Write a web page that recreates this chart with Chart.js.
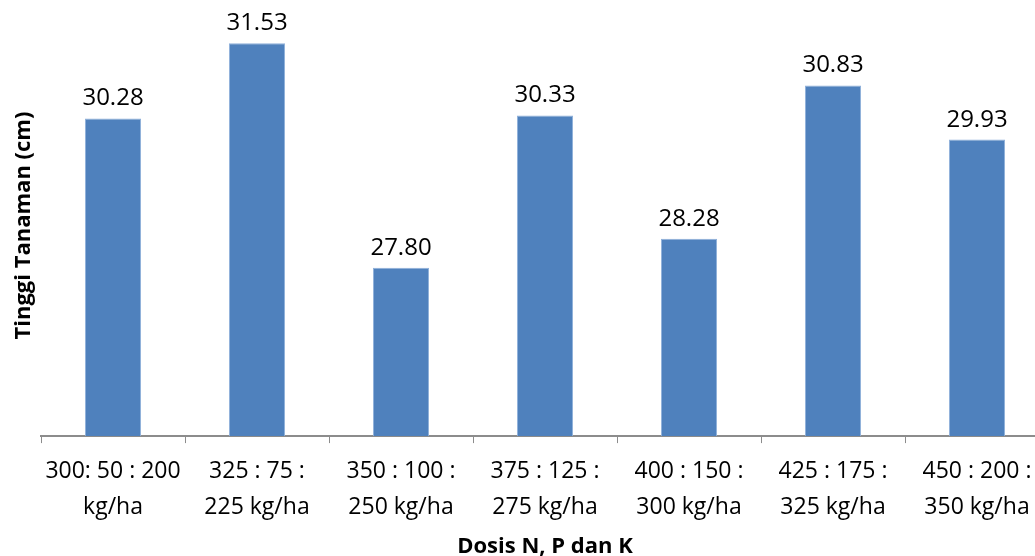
<!DOCTYPE html>
<html>
<head>
<meta charset="utf-8">
<script src="https://cdn.jsdelivr.net/npm/chart.js@4"></script>
<style>
  html, body { margin: 0; padding: 0; background: #ffffff; overflow: hidden; }
  #wrap { width: 1035px; height: 556px; overflow: hidden; }
</style>
</head>
<body>
<div id="wrap"><canvas id="c" width="1060" height="556"></canvas></div>
<script>
// Plant height by N, P, K dose
const categories = [
  ["300: 50 : 200", "kg/ha"],
  ["325 : 75 :", "225 kg/ha"],
  ["350 : 100 :", "250 kg/ha"],
  ["375 : 125 :", "275 kg/ha"],
  ["400 : 150 :", "300 kg/ha"],
  ["425 : 175 :", "325 kg/ha"],
  ["450 : 200 :", "350 kg/ha"]
];
const heights = [30.28, 31.53, 27.80, 30.33, 28.28, 30.83, 29.93];
const yMin = 25;
const yMax = 32;

const FONT = "'Open Sans', 'Liberation Sans', sans-serif";

// value labels above each bar
const barValueLabels = {
  id: 'barValueLabels',
  afterDatasetsDraw(chart) {
    const ctx = chart.ctx;
    const meta = chart.getDatasetMeta(0);
    ctx.save();
    ctx.font = "24px " + FONT;
    ctx.fillStyle = '#000000';
    ctx.textAlign = 'center';
    ctx.textBaseline = 'alphabetic';
    meta.data.forEach((bar, i) => {
      ctx.fillText(heights[i].toFixed(2), bar.x, bar.y - 13);
    });
    ctx.restore();
  }
};

new Chart(document.getElementById('c'), {
  type: 'bar',
  data: {
    labels: categories,
    datasets: [{
      data: heights,
      backgroundColor: '#4F81BD',
      borderColor: '#8FB0DA',
      borderWidth: 1,
      categoryPercentage: 1,
      barPercentage: 0.39
    }]
  },
  options: {
    responsive: false,
    animation: false,
    devicePixelRatio: 1,
    layout: { padding: { left: 11, right: 11, top: 15, bottom: 0 } },
    plugins: {
      legend: { display: false },
      tooltip: { enabled: false }
    },
    scales: {
      x: {
        offset: true,
        grid: {
          offset: true,
          drawOnChartArea: false,
          drawTicks: true,
          tickLength: 7,
          tickWidth: 1,
          tickColor: '#8c8c8c'
        },
        border: { display: true, color: '#8c8c8c', width: 2 },
        ticks: {
          color: '#000000',
          padding: 11,
          maxRotation: 0,
          autoSkip: false,
          font: { family: FONT, size: 23, lineHeight: 1.55 }
        },
        title: {
          display: true,
          text: 'Dosis N, P dan K',
          color: '#000000',
          font: { family: FONT, size: 22, weight: 'bold', lineHeight: 0.8 },
          padding: { top: 2, bottom: 0 }
        }
      },
      y: {
        min: yMin,
        max: yMax,
        grid: { display: false, drawTicks: false },
        border: { display: false },
        ticks: { display: false },
        title: {
          display: true,
          text: 'Tinggi Tanaman (cm)',
          color: '#000000',
          font: { family: FONT, size: 22, weight: 'bold', lineHeight: 1.2 },
          padding: { top: 0, bottom: 3.6 }
        }
      }
    }
  },
  plugins: [barValueLabels]
});
</script>
</body>
</html>
